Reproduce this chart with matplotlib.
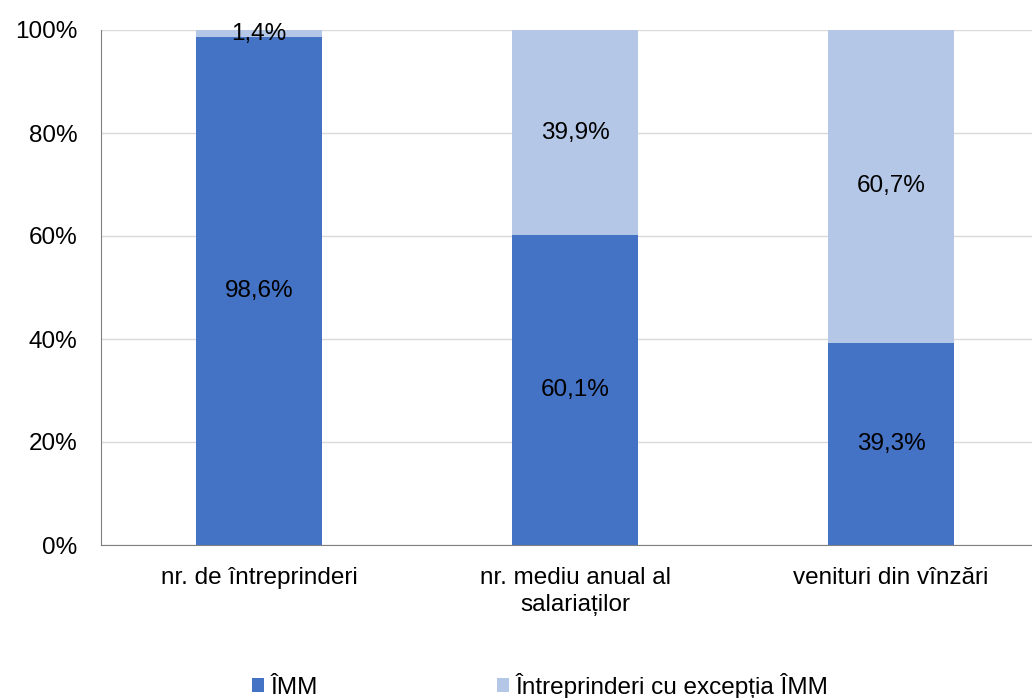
import matplotlib.pyplot as plt
import matplotlib.ticker as mtick

categories = ["nr. de întreprinderi", "nr. mediu anual al\nsalariaților", "venituri din vînzări"]
imm = [98.6, 60.1, 39.3]
other = [1.4, 39.9, 60.7]
imm_labels = ["98,6%", "60,1%", "39,3%"]
other_labels = ["1,4%", "39,9%", "60,7%"]
series_names = ["ÎMM", "Întreprinderi cu excepția ÎMM"]

DARK = "#4472C4"
LIGHT = "#B4C7E7"

plt.rcParams["font.family"] = ["Liberation Sans", "DejaVu Sans"]
plt.rcParams["font.size"] = 17.5


def main():
    fig = plt.figure(figsize=(10.32, 6.98), dpi=100)
    ax = fig.add_axes([101 / 1032, 1 - 545 / 698, 948 / 1032, 515 / 698])

    x = list(range(len(categories)))
    width = 0.40
    b1 = ax.bar(x, imm, width, color=DARK, label=series_names[0], zorder=3)
    b2 = ax.bar(x, other, width, bottom=imm, color=LIGHT, label=series_names[1], zorder=3)

    for i in x:
        ax.text(i, imm[i] / 2, imm_labels[i], ha="center", va="center", zorder=4)
        ax.text(i, imm[i] + other[i] / 2, other_labels[i], ha="center", va="center", zorder=4)

    ax.set_xlim(-0.5, len(categories) - 0.5)
    ax.set_ylim(0, 100)
    ax.yaxis.set_major_locator(mtick.MultipleLocator(20))
    ax.yaxis.set_major_formatter(mtick.PercentFormatter(decimals=0))
    ax.grid(axis="y", color="#D9D9D9", linewidth=1, zorder=0)

    ax.set_xticks(x)
    ax.set_xticklabels(categories, linespacing=1.3)
    ax.tick_params(axis="x", length=0, pad=16)
    ax.tick_params(axis="y", length=0, pad=17)

    for side in ["top", "right"]:
        ax.spines[side].set_visible(False)
    for side in ["left", "bottom"]:
        ax.spines[side].set_color("#808080")

    fig.legend(
        handles=[b1, b2],
        loc="center left",
        bbox_to_anchor=(230 / 1032, 1 - 686 / 698),
        ncol=2,
        frameon=False,
        handlelength=0.5,
        handleheight=0.5,
        handletextpad=0.25,
        columnspacing=7.4,
    )

    fig.savefig("out.png", dpi=100)
    plt.close(fig)


if __name__ == "__main__":
    main()
